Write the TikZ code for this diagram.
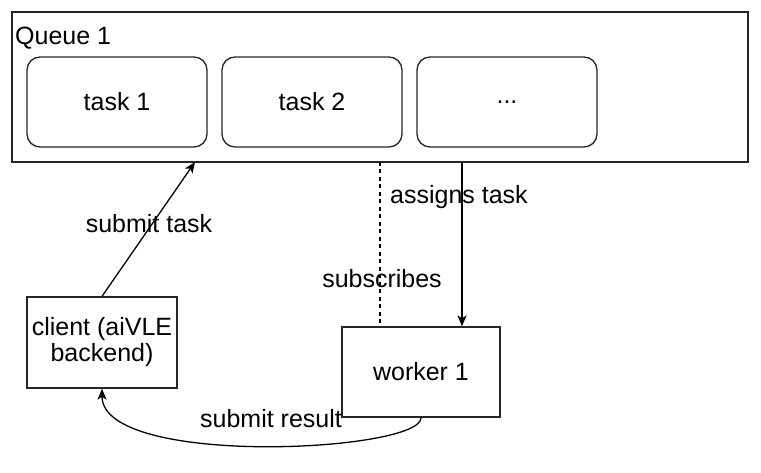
\documentclass[tikz,border=0pt]{standalone}
\usepackage{fontspec}
\setmainfont{Liberation Sans}
\usetikzlibrary{arrows.meta,calc}
\begin{document}
\begin{tikzpicture}[x=1pt,y=-1pt,
  every node/.style={font=\fontsize{25}{29}\selectfont, text=black},
  box/.style={draw=black!85, line width=1.3pt, rectangle, inner sep=0pt},
  taskbox/.style={box, rounded corners=13pt, minimum width=180pt, minimum height=90pt},
  conn/.style={draw=black, line width=1.3pt},
  arr/.style={conn, -{Stealth[length=11pt,width=9pt,inset=3pt]}},
  lbl/.style={inner sep=0pt}
]
\useasboundingbox (0,0) rectangle (761,473);
\fill[white] (0,0) rectangle (761,473);
\node[box, minimum width=736pt, minimum height=150pt] (queue) at (380,87) {};
\node[lbl, anchor=west] (qlabel) at (15,38) {Queue 1};
\node[taskbox] (t1) at (117,102) {task 1};
\node[taskbox] (t2) at (312,102) {task 2};
\node[taskbox] (t3) at (507,102) {...};
\node[box, minimum width=150pt, minimum height=91pt, align=center] (client) at (102,342.5) {client (aiVLE\\[-3pt]backend)};
\node[box, minimum width=158pt, minimum height=90pt] (worker) at (421,372) {worker 1};
\coordinate (qa) at (195,162);
\coordinate (qb) at (462,162);
\coordinate (qc) at (380,162);
\draw[arr] (client.north) -- (qa);
\node[lbl] (lsubmit) at (149,224) {submit task};
\draw[conn, dash pattern=on 4pt off 3.5pt] (qc) -- (qc |- worker.north);
\draw[arr] (qb) -- (qb |- worker.north);
\node[lbl] (lassign) at (459,197) {assigns task};
\node[lbl] (lsubs) at (382,279) {subscribes};
\draw[arr] (worker.south) .. controls (422,452) and (102,468) .. (client.south);
\node[lbl] (lresult) at (271,419) {submit result};
\end{tikzpicture}
\end{document}
